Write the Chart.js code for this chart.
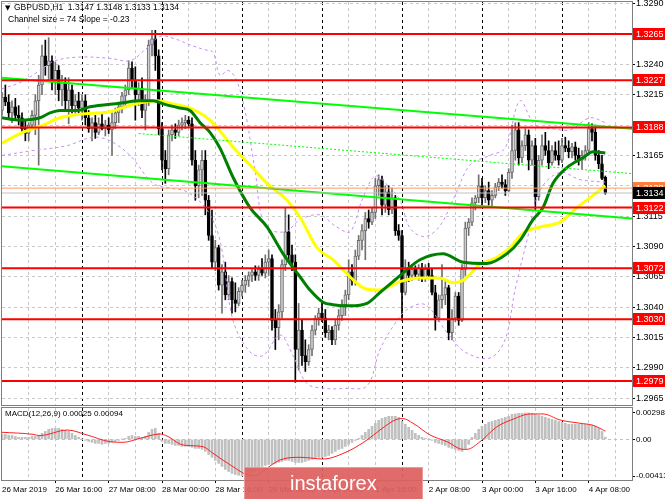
<!DOCTYPE html>
<html>
<head>
<meta charset="utf-8">
<script src="https://cdn.jsdelivr.net/npm/chart.js@4.4.1/dist/chart.umd.min.js"></script>
<style>
  body { margin: 0; background: #fff; }
  #wrap { position: relative; width: 665px; height: 499px; }
  canvas { position: absolute; left: 0; }
  #main { top: 0; }
  #macd { top: 406px; }
</style>
</head>
<body>
<div id="wrap">
  <canvas id="main" width="665" height="406"></canvas>
  <canvas id="macd" width="665" height="93"></canvas>
</div>
<script>
// ---- data ----
var symbol = 'GBPUSD,H1';
var channelSize = 74;
var channelSlope = -0.23;

// hourly bars, 26 Mar 00:00 .. 4 Apr 13:00 (weekend skipped)
var openP = [
  1.3202, 1.3213, 1.3209, 1.3200, 1.3205, 1.3198, 1.3196, 1.3187, 1.3183, 1.3190,
  1.3198, 1.3210, 1.3223, 1.3247, 1.3239, 1.3243, 1.3227, 1.3235, 1.3219, 1.3225,
  1.3210, 1.3219, 1.3206, 1.3210, 1.3204, 1.3210, 1.3196, 1.3187, 1.3192, 1.3184,
  1.3191, 1.3187, 1.3190, 1.3186, 1.3192, 1.3200, 1.3205, 1.3214, 1.3219, 1.3237,
  1.3227, 1.3215, 1.3220, 1.3202, 1.3210, 1.3256, 1.3261, 1.3247, 1.3187, 1.3161,
  1.3154, 1.3182, 1.3186, 1.3184, 1.3190, 1.3192, 1.3194, 1.3191, 1.3161, 1.3140,
  1.3153, 1.3161, 1.3128, 1.3099, 1.3077, 1.3089, 1.3058, 1.3069, 1.3050, 1.3061,
  1.3046, 1.3043, 1.3053, 1.3058, 1.3062, 1.3066, 1.3069, 1.3066, 1.3071, 1.3068,
  1.3077, 1.3080, 1.3029, 1.3023, 1.3036, 1.3075, 1.3102, 1.3083, 1.3077, 1.3005,
  1.3021, 1.3000, 1.2995, 1.3005, 1.3021, 1.3031, 1.3035, 1.3031, 1.3019, 1.3021,
  1.3013, 1.3025, 1.3033, 1.3042, 1.3050, 1.3069, 1.3062, 1.3082, 1.3095, 1.3103,
  1.3113, 1.3110, 1.3118, 1.3140, 1.3145, 1.3124, 1.3135, 1.3120, 1.3130, 1.3103,
  1.3099, 1.3052, 1.3072, 1.3066, 1.3071, 1.3067, 1.3072, 1.3064, 1.3071, 1.3066,
  1.3052, 1.3031, 1.3046, 1.3050, 1.3056, 1.3019, 1.3031, 1.3049, 1.3029, 1.3071,
  1.3105, 1.3110, 1.3126, 1.3130, 1.3140, 1.3130, 1.3136, 1.3128, 1.3132, 1.3139,
  1.3143, 1.3141, 1.3136, 1.3151, 1.3169, 1.3186, 1.3163, 1.3173, 1.3182, 1.3161,
  1.3173, 1.3131, 1.3161, 1.3173, 1.3169, 1.3159, 1.3169, 1.3165, 1.3161, 1.3173,
  1.3171, 1.3168, 1.3172, 1.3165, 1.3161, 1.3165, 1.3169, 1.3187, 1.3184, 1.3165,
  1.3158, 1.3147
];
var highP = [
  1.3217, 1.3223, 1.3215, 1.3210, 1.3212, 1.3206, 1.3200, 1.3194, 1.3192, 1.3202,
  1.3215, 1.3231, 1.3256, 1.3260, 1.3262, 1.3247, 1.3242, 1.3239, 1.3231, 1.3229,
  1.3229, 1.3223, 1.3215, 1.3217, 1.3215, 1.3215, 1.3202, 1.3196, 1.3198, 1.3196,
  1.3200, 1.3194, 1.3196, 1.3200, 1.3204, 1.3209, 1.3217, 1.3223, 1.3243, 1.3242,
  1.3238, 1.3225, 1.3229, 1.3215, 1.3260, 1.3268, 1.3268, 1.3252, 1.3192, 1.3169,
  1.3186, 1.3190, 1.3191, 1.3194, 1.3196, 1.3198, 1.3197, 1.3196, 1.3169, 1.3157,
  1.3169, 1.3169, 1.3132, 1.3120, 1.3095, 1.3091, 1.3075, 1.3077, 1.3066, 1.3064,
  1.3060, 1.3056, 1.3062, 1.3066, 1.3069, 1.3072, 1.3074, 1.3074, 1.3080, 1.3083,
  1.3087, 1.3083, 1.3038, 1.3042, 1.3079, 1.3122, 1.3116, 1.3091, 1.3083, 1.3043,
  1.3029, 1.3013, 1.3009, 1.3025, 1.3033, 1.3039, 1.3043, 1.3038, 1.3025, 1.3024,
  1.3029, 1.3038, 1.3046, 1.3054, 1.3079, 1.3075, 1.3087, 1.3099, 1.3108, 1.3118,
  1.3120, 1.3122, 1.3146, 1.3149, 1.3148, 1.3140, 1.3140, 1.3138, 1.3132, 1.3108,
  1.3103, 1.3079, 1.3077, 1.3075, 1.3074, 1.3075, 1.3076, 1.3075, 1.3076, 1.3071,
  1.3058, 1.3050, 1.3075, 1.3061, 1.3058, 1.3038, 1.3052, 1.3052, 1.3075, 1.3110,
  1.3113, 1.3130, 1.3132, 1.3149, 1.3146, 1.3140, 1.3143, 1.3136, 1.3142, 1.3146,
  1.3149, 1.3145, 1.3154, 1.3190, 1.3192, 1.3192, 1.3177, 1.3187, 1.3186, 1.3177,
  1.3179, 1.3165, 1.3182, 1.3184, 1.3177, 1.3173, 1.3176, 1.3177, 1.3179, 1.3180,
  1.3177, 1.3175, 1.3176, 1.3171, 1.3169, 1.3173, 1.3192, 1.3191, 1.3190, 1.3169,
  1.3165, 1.3148
];
var lowP = [
  1.3198, 1.3206, 1.3196, 1.3192, 1.3194, 1.3190, 1.3184, 1.3177, 1.3177, 1.3186,
  1.3182, 1.3157, 1.3215, 1.3231, 1.3227, 1.3219, 1.3215, 1.3210, 1.3206, 1.3202,
  1.3191, 1.3200, 1.3198, 1.3200, 1.3194, 1.3190, 1.3184, 1.3177, 1.3179, 1.3182,
  1.3186, 1.3181, 1.3183, 1.3165, 1.3187, 1.3192, 1.3200, 1.3206, 1.3215, 1.3220,
  1.3194, 1.3206, 1.3196, 1.3186, 1.3206, 1.3247, 1.3235, 1.3182, 1.3153, 1.3142,
  1.3149, 1.3177, 1.3179, 1.3181, 1.3186, 1.3187, 1.3189, 1.3157, 1.3128, 1.3130,
  1.3132, 1.3116, 1.3095, 1.3072, 1.3070, 1.3054, 1.3035, 1.3046, 1.3046, 1.3035,
  1.3036, 1.3041, 1.3049, 1.3052, 1.3057, 1.3061, 1.3062, 1.3062, 1.3066, 1.3064,
  1.3066, 1.3021, 1.3005, 1.3013, 1.3031, 1.3070, 1.3077, 1.3070, 1.2978, 1.2988,
  1.2992, 1.2987, 1.2992, 1.3000, 1.3017, 1.3025, 1.3028, 1.3015, 1.3013, 1.3009,
  1.3009, 1.3021, 1.3029, 1.3033, 1.3046, 1.3058, 1.3058, 1.3079, 1.3087, 1.3079,
  1.3105, 1.3108, 1.3113, 1.3132, 1.3116, 1.3118, 1.3116, 1.3117, 1.3099, 1.3095,
  1.3029, 1.3050, 1.3061, 1.3062, 1.3064, 1.3062, 1.3061, 1.3061, 1.3064, 1.3050,
  1.3021, 1.3028, 1.3039, 1.3042, 1.3013, 1.3013, 1.3028, 1.3025, 1.3028, 1.3066,
  1.3099, 1.3107, 1.3120, 1.3126, 1.3124, 1.3126, 1.3124, 1.3123, 1.3130, 1.3136,
  1.3138, 1.3132, 1.3135, 1.3146, 1.3161, 1.3157, 1.3159, 1.3169, 1.3153, 1.3157,
  1.3120, 1.3128, 1.3157, 1.3165, 1.3154, 1.3157, 1.3161, 1.3157, 1.3159, 1.3168,
  1.3163, 1.3163, 1.3161, 1.3157, 1.3154, 1.3161, 1.3165, 1.3177, 1.3161, 1.3154,
  1.3145, 1.3133
];
var closeP = [
  1.3213, 1.3209, 1.3200, 1.3205, 1.3198, 1.3196, 1.3187, 1.3183, 1.3190, 1.3198,
  1.3210, 1.3223, 1.3247, 1.3239, 1.3243, 1.3227, 1.3235, 1.3219, 1.3225, 1.3210,
  1.3219, 1.3206, 1.3210, 1.3204, 1.3210, 1.3196, 1.3187, 1.3192, 1.3184, 1.3191,
  1.3187, 1.3190, 1.3186, 1.3192, 1.3200, 1.3205, 1.3214, 1.3219, 1.3237, 1.3227,
  1.3215, 1.3220, 1.3202, 1.3210, 1.3256, 1.3261, 1.3247, 1.3187, 1.3161, 1.3154,
  1.3182, 1.3186, 1.3184, 1.3190, 1.3192, 1.3194, 1.3191, 1.3161, 1.3140, 1.3153,
  1.3161, 1.3128, 1.3099, 1.3077, 1.3089, 1.3058, 1.3069, 1.3050, 1.3061, 1.3046,
  1.3043, 1.3053, 1.3058, 1.3062, 1.3066, 1.3069, 1.3066, 1.3071, 1.3068, 1.3077,
  1.3080, 1.3029, 1.3023, 1.3036, 1.3075, 1.3102, 1.3083, 1.3077, 1.3005, 1.3021,
  1.3000, 1.2995, 1.3005, 1.3021, 1.3031, 1.3035, 1.3031, 1.3019, 1.3021, 1.3013,
  1.3025, 1.3033, 1.3042, 1.3050, 1.3069, 1.3062, 1.3082, 1.3095, 1.3103, 1.3113,
  1.3110, 1.3118, 1.3140, 1.3145, 1.3124, 1.3135, 1.3120, 1.3130, 1.3103, 1.3099,
  1.3052, 1.3072, 1.3066, 1.3071, 1.3067, 1.3072, 1.3064, 1.3071, 1.3066, 1.3052,
  1.3031, 1.3046, 1.3050, 1.3056, 1.3019, 1.3031, 1.3049, 1.3029, 1.3071, 1.3105,
  1.3110, 1.3126, 1.3130, 1.3140, 1.3130, 1.3136, 1.3128, 1.3132, 1.3139, 1.3143,
  1.3141, 1.3136, 1.3151, 1.3169, 1.3186, 1.3163, 1.3173, 1.3182, 1.3161, 1.3173,
  1.3131, 1.3161, 1.3173, 1.3169, 1.3159, 1.3169, 1.3165, 1.3161, 1.3173, 1.3171,
  1.3168, 1.3172, 1.3165, 1.3161, 1.3165, 1.3169, 1.3187, 1.3184, 1.3165, 1.3158,
  1.3146, 1.3134
];

// moving averages and bands, read at sample bars
var fastMaBars = [0, 5.4, 11.4, 14.4, 17.4, 22.5, 26.4, 35.4, 41.4, 45.3, 48.9, 53.4, 56.4, 59.4, 62.4, 65.4, 69.3, 74.4, 79.5, 84.3, 89.4, 92.4, 96.3, 99.3, 104.4, 109.5, 113.4, 117.3, 120.3, 125.4, 132.3, 138.3, 145.5, 151.5, 155.4, 159.3, 162.3, 165.3, 169.5, 174.3, 177.3, 181];
var fastMaVals = [1.3196, 1.3194, 1.3196, 1.3200, 1.3202, 1.3202, 1.3205, 1.3208, 1.3210, 1.3210, 1.3207, 1.3204, 1.3202, 1.3192, 1.3184, 1.3171, 1.3147, 1.3122, 1.3106, 1.3084, 1.3065, 1.3054, 1.3044, 1.3042, 1.3041, 1.3043, 1.3052, 1.3061, 1.3068, 1.3079, 1.3084, 1.3077, 1.3076, 1.3084, 1.3095, 1.3112, 1.3122, 1.3142, 1.3155, 1.3163, 1.3168, 1.3167];
var slowMaBars = [0, 5.4, 12.3, 17.4, 23.4, 32.4, 39.3, 46.5, 51.9, 55.5, 59.4, 62.4, 64.5, 69.3, 74.4, 79.5, 85.5, 89.4, 94.5, 99.3, 104.4, 108.3, 112.5, 115.5, 119.4, 125.4, 131.4, 135.3, 138.3, 143.4, 148.5, 152.4, 156.3, 161.4, 167.4, 172.5, 177.3, 181];
var slowMaVals = [1.3175, 1.3183, 1.3190, 1.3196, 1.3199, 1.3201, 1.3207, 1.3210, 1.3207, 1.3205, 1.3200, 1.3194, 1.3188, 1.3172, 1.3157, 1.3142, 1.3128, 1.3114, 1.3089, 1.3079, 1.3065, 1.3056, 1.3054, 1.3056, 1.3061, 1.3064, 1.3064, 1.3060, 1.3062, 1.3075, 1.3081, 1.3089, 1.3101, 1.3106, 1.3110, 1.3122, 1.3132, 1.3140];
var upperBandBars = [0, 5.4, 11.4, 15.9, 23.4, 32.4, 38.4, 42.9, 47.4, 51.9, 56.4, 60.9, 63.3, 65.4, 67.8, 70.2, 72.9, 75.9, 78.9, 84.9, 89.4, 95.4, 99.9, 104.4, 108, 111.9, 115.8, 119.4, 122.4, 126.9, 131.4, 135.9, 140.4, 146.4, 150.9, 155.4, 159.9, 165.3, 170.4, 176.4, 181];
var upperBandVals = [1.3220, 1.3225, 1.3235, 1.3243, 1.3246, 1.3245, 1.3243, 1.3252, 1.3263, 1.3261, 1.3256, 1.3252, 1.3250, 1.3231, 1.3235, 1.3228, 1.3202, 1.3153, 1.3107, 1.3102, 1.3112, 1.3116, 1.3107, 1.3102, 1.3128, 1.3148, 1.3140, 1.3128, 1.3105, 1.3098, 1.3107, 1.3132, 1.3157, 1.3165, 1.3171, 1.3210, 1.3190, 1.3187, 1.3186, 1.3196, 1.3192];
var lowerBandBars = [0, 9.3, 19.5, 27.3, 32.4, 38.4, 45.3, 50.4, 55.5, 61.5, 65.4, 69.3, 74.4, 78.3, 83.4, 87.3, 91.5, 96.9, 102.9, 109.5, 113.4, 117.3, 121.5, 126.9, 133.5, 138.9, 146.4, 150.9, 153.9, 157.5, 161.4, 167.4, 173.4, 181];
var lowerBandVals = [1.3165, 1.3169, 1.3173, 1.3180, 1.3177, 1.3165, 1.3142, 1.3138, 1.3135, 1.3120, 1.3095, 1.3029, 1.3003, 1.3000, 1.3017, 1.3000, 1.2977, 1.2973, 1.2973, 1.2975, 1.3005, 1.3024, 1.3038, 1.3042, 1.3019, 1.3003, 1.2998, 1.3013, 1.3054, 1.3095, 1.3136, 1.3151, 1.3145, 1.3143];

// regression channel ends (bar, price)
var channelBars = [0, 189];
var channelUpper = [1.3229, 1.3187];
var channelLower = [1.3156, 1.3113];
var channelMidBars = [41, 189];
var channelMid = [1.3183, 1.3150];

// horizontal levels and price lines
var levels = [1.3265, 1.3227, 1.3188, 1.3122, 1.3072, 1.3030, 1.2979];
var askLine = 1.3138;
var bidLine = 1.3134;

// MACD(12,26,9)
var macdHist = [
  0.00056, 0.00056, 0.00045, 0.00045, 0.00034, 0.00023, 0.00023, 0.00023, 0.00023, 0.00034,
  0.00034, 0.00045, 0.00068, 0.0009, 0.00113, 0.00124, 0.00124, 0.00124, 0.00113, 0.00102,
  0.0009, 0.00068, 0.00045, 0.00023, 0.00002, -0.00011, -0.00023, -0.00034, -0.00045, -0.00045,
  -0.00056, -0.00045, -0.00045, -0.00034, -0.00023, -0.00011, 0.00002, 0.00011, 0.00034, 0.00045,
  0.00034, 0.00034, 0.00023, 0.00034, 0.00079, 0.00113, 0.00124, 0.00068, -0.00023, -0.00045,
  -0.00045, -0.00056, -0.00068, -0.00068, -0.00079, -0.00079, -0.00079, -0.0009, -0.00102, -0.00102,
  -0.00113, -0.00136, -0.0017, -0.00203, -0.00237, -0.00271, -0.00305, -0.00339, -0.00362, -0.00384,
  -0.00396, -0.00405, -0.00413, -0.00413, -0.00396, -0.00373, -0.0035, -0.00328, -0.00305, -0.00294,
  -0.00283, -0.00283, -0.00271, -0.0026, -0.00249, -0.00237, -0.00237, -0.00249, -0.0026, -0.0026,
  -0.0026, -0.00249, -0.00237, -0.00226, -0.00215, -0.00203, -0.00203, -0.00192, -0.00181, -0.00158,
  -0.00136, -0.00113, -0.00102, -0.00079, -0.00056, -0.00034, -0.00011, 0.00011, 0.00045, 0.00079,
  0.00113, 0.00147, 0.00181, 0.00215, 0.00237, 0.00249, 0.0026, 0.0026, 0.0026, 0.00249,
  0.00203, 0.0017, 0.00136, 0.00102, 0.00068, 0.00045, 0.00023, 0.00011, 0.00002, -0.00011,
  -0.00034, -0.00045, -0.00056, -0.00068, -0.0009, -0.00102, -0.00113, -0.00124, -0.00136, -0.00102,
  -0.00056, 0.00023, 0.00068, 0.00113, 0.00147, 0.0017, 0.00192, 0.00203, 0.00215, 0.00226,
  0.00237, 0.00249, 0.0026, 0.00283, 0.00287, 0.00294, 0.00294, 0.00298, 0.00298, 0.00294,
  0.00283, 0.00271, 0.0026, 0.00249, 0.00237, 0.00226, 0.00215, 0.00203, 0.00192, 0.00181,
  0.0017, 0.0017, 0.0017, 0.0017, 0.0017, 0.0017, 0.0017, 0.00158, 0.00147, 0.00124,
  0.0009, 0.00025
];
var signalBars = [0, 9.3, 11.4, 19.5, 25.5, 32.4, 36.3, 41.4, 47.4, 49.5, 54.3, 60.3, 63.3, 69.3, 73.5, 75.9, 78.9, 83.4, 89.4, 96.3, 103.5, 109.5, 113.4, 118.5, 120.3, 123.3, 128.4, 133.5, 138.3, 139.5, 143.4, 148.5, 153.3, 158.4, 162.3, 167.4, 173.4, 177.3, 181];
var signalVals = [0.0008, 0.00057, 0.00042, 0.00106, 0.0005, -0.00026, -0.00033, 0.00012, 0.00061, 0.00038, -0.00063, -0.00082, -0.00157, -0.00308, -0.0040, -0.0041, -0.0034, -0.00232, -0.00202, -0.00221, -0.00139, -0.00007, 0.00106, 0.00227, 0.00234, 0.00182, 0.0005, -0.00026, -0.00112, -0.00112, -0.00026, 0.00143, 0.00227, 0.00287, 0.00287, 0.00219, 0.00182, 0.00159, 0.00094];

// axes
var priceTicks = [1.2965, 1.2990, 1.3015, 1.3040, 1.3065, 1.3090, 1.3115, 1.3140, 1.3165, 1.3190, 1.3215, 1.3240, 1.3265, 1.3290];
var macdTicks = [-0.00413, 0, 0.00298];
var tickBars = [0, 8, 16, 24, 32, 40, 48, 56, 64, 72, 80, 88, 96, 104, 112, 120, 128, 136, 144, 152, 160, 168, 176, 184];
var daySeparators = [24, 48, 72, 96, 120, 144, 168];
var labelBars = [0, 16, 32, 48, 64, 80, 96, 112, 128, 144, 160, 176];
var timeLabels = ['26 Mar 2019', '26 Mar 16:00', '27 Mar 08:00', '28 Mar 00:00', '28 Mar 16:00', '29 Mar 08:00',
  '1 Apr 00:00', '1 Apr 16:00', '2 Apr 08:00', '3 Apr 00:00', '3 Apr 16:00', '4 Apr 08:00'];

// ---- chart ----
Chart.defaults.font.family = '"Liberation Sans", "DejaVu Sans", sans-serif';
Chart.defaults.color = '#000';

function pts(xs, ys) {
  return xs.map(function (x, i) { return { x: x, y: ys[i] }; });
}
function flat(v) {
  return [{ x: 0, y: v }, { x: 189, y: v }];
}
var isBull = closeP.map(function (c, i) { return c >= openP[i]; });

function timeAxis(withLabels) {
  return {
    type: 'linear', min: 0, max: 189, offset: false,
    afterBuildTicks: function (s) { s.ticks = tickBars.map(function (v) { return { value: v }; }); },
    ticks: {
      display: withLabels, autoSkip: false, maxRotation: 0, align: 'start', padding: 2,
      font: { size: 8 },
      callback: function (v) { var k = labelBars.indexOf(v); return k < 0 ? '' : timeLabels[k]; }
    },
    grid: {
      offset: false,
      color: function (c) {
        if (c.tick.value === 0) return 'rgba(0,0,0,0)';
        return daySeparators.indexOf(c.tick.value) >= 0 ? '#000000' : '#c8c8c8';
      },
      drawTicks: withLabels, tickLength: 3,
      tickColor: function (c) { return labelBars.indexOf(c.tick.value) > 0 ? '#000000' : 'rgba(0,0,0,0)'; }
    },
    border: { display: false, dash: [3, 3] },
    afterFit: function (s) { s.height = withLabels ? 19 : 0; s.paddingLeft = 0; s.paddingRight = 0; }
  };
}

var framePlugin = {
  id: 'frame',
  afterDraw: function (chart) {
    var a = chart.chartArea, ctx = chart.ctx;
    ctx.save();
    ctx.strokeStyle = '#7f7f7f';
    ctx.lineWidth = 1;
    ctx.strokeRect(Math.round(a.left) - 0.5, Math.round(a.top) - 0.5,
      Math.round(a.right - a.left) + 1, Math.round(a.bottom - a.top) + 1);
    ctx.restore();
  }
};

function tag(ctx, left, right, py, text, bg, fg) {
  var y = Math.round(py);
  ctx.fillStyle = bg;
  ctx.fillRect(left, y - 6, right - left, 12);
  ctx.fillStyle = fg;
  ctx.font = '9px "Liberation Sans"';
  ctx.textAlign = 'left';
  ctx.textBaseline = 'middle';
  ctx.fillText(text, left + 3, y + 0.5);
}

var mainLabels = {
  id: 'mainLabels',
  afterDraw: function (chart) {
    var ctx = chart.ctx, ys = chart.scales.y, a = chart.chartArea;
    var last = openP.length - 1;
    ctx.save();
    ctx.fillStyle = '#000';
    ctx.textBaseline = 'middle';
    ctx.textAlign = 'left';
    ctx.font = '7px "DejaVu Sans"';
    ctx.fillText('\u25BC', 5, 8);
    ctx.font = '8.5px "Liberation Sans"';
    ctx.fillText(symbol + '  ' + openP[last].toFixed(4) + ' ' + highP[last].toFixed(4) + ' ' +
      lowP[last].toFixed(4) + ' ' + closeP[last].toFixed(4), 14, 8);
    ctx.fillText('Channel size = ' + channelSize + ' Slope = ' + channelSlope.toFixed(2), 8, 20);
    var left = Math.round(a.right) + 1, right = chart.width;
    tag(ctx, left, right, ys.getPixelForValue(askLine), askLine.toFixed(4), '#ff7f3f', '#ffffff');
    tag(ctx, left, right, ys.getPixelForValue(bidLine), bidLine.toFixed(4), '#000000', '#ffffff');
    levels.forEach(function (v) {
      tag(ctx, left, right, ys.getPixelForValue(v), v.toFixed(4), '#ff0000', '#ffffff');
    });
    ctx.restore();
  }
};

var lineBase = { type: 'line', pointRadius: 0, fill: false, borderCapStyle: 'butt' };
function lineSet(extra) { return Object.assign({}, lineBase, extra); }

new Chart(document.getElementById('main'), {
  type: 'bar',
  data: {
    datasets: [
      {
        type: 'bar', order: 20, grouped: false, barThickness: 1,
        data: lowP.map(function (l, i) { return { x: i, y: [l, highP[i]] }; }),
        backgroundColor: isBull.map(function (b) { return b ? '#707070' : '#000000'; })
      },
      {
        type: 'bar', order: 19, grouped: false, barThickness: 3, minBarLength: 1,
        data: openP.map(function (o, i) { return { x: i, y: [o, closeP[i]] }; }),
        backgroundColor: isBull.map(function (b) { return b ? '#cfcfcf' : '#000000'; }),
        borderColor: isBull.map(function (b) { return b ? '#6a6a6a' : '#000000'; }),
        borderWidth: 1, borderSkipped: false
      },
      lineSet({ order: 12, data: pts(upperBandBars, upperBandVals), borderColor: '#c58ef0', borderWidth: 1, borderDash: [3, 3], tension: 0.35 }),
      lineSet({ order: 12, data: pts(lowerBandBars, lowerBandVals), borderColor: '#c58ef0', borderWidth: 1, borderDash: [3, 3], tension: 0.35 }),
      lineSet({ order: 10, data: pts(slowMaBars, slowMaVals), borderColor: '#ffff00', borderWidth: 3, cubicInterpolationMode: 'monotone' }),
      lineSet({ order: 9, data: pts(fastMaBars, fastMaVals), borderColor: '#008000', borderWidth: 3, cubicInterpolationMode: 'monotone' }),
      lineSet({ order: 8, data: pts(channelBars, channelUpper), borderColor: '#00ff00', borderWidth: 2 }),
      lineSet({ order: 8, data: pts(channelBars, channelLower), borderColor: '#00ff00', borderWidth: 2 }),
      lineSet({ order: 8, data: pts(channelMidBars, channelMid), borderColor: '#00ff00', borderWidth: 1, borderDash: [2, 2] }),
      lineSet({ order: 7, data: flat(askLine), borderColor: '#ff9a66', borderWidth: 1 }),
      lineSet({ order: 7, data: flat(bidLine), borderColor: '#c0c0c0', borderWidth: 1 })
    ].concat(levels.map(function (v) {
      return lineSet({ order: 1, data: flat(v), borderColor: '#ff0000', borderWidth: 2 });
    }))
  },
  options: {
    responsive: false, animation: false, devicePixelRatio: 1, events: [],
    layout: { padding: { left: 2, top: 2, right: 0, bottom: 1 } },
    plugins: { legend: { display: false }, tooltip: { enabled: false } },
    scales: {
      x: timeAxis(false),
      y: {
        position: 'right', min: 1.29593, max: 1.32914,
        afterBuildTicks: function (s) { s.ticks = priceTicks.map(function (v) { return { value: v }; }); },
        ticks: { font: { size: 9 }, padding: 1, callback: function (v) { return v.toFixed(4); } },
        grid: { color: '#c8c8c8', tickColor: '#000000', tickLength: 3 },
        border: { display: false, dash: [3, 3] },
        afterFit: function (s) { s.width = 33; s.paddingTop = 0; s.paddingBottom = 0; }
      }
    }
  },
  plugins: [framePlugin, mainLabels]
});

var macdLabels = {
  id: 'macdLabels',
  afterDraw: function (chart) {
    var ctx = chart.ctx;
    ctx.save();
    ctx.fillStyle = '#000';
    ctx.font = '8px "Liberation Sans"';
    ctx.textAlign = 'left';
    ctx.textBaseline = 'middle';
    ctx.fillText('MACD(12,26,9) ' + macdHist[macdHist.length - 1].toFixed(5) + ' ' +
      signalVals[signalVals.length - 1].toFixed(5), 5, 8);
    // instaforex watermark
    ctx.fillStyle = 'rgba(222,96,96,0.93)';
    ctx.fillRect(244, 61, 179, 32);
    ctx.strokeStyle = 'rgba(240,160,160,0.9)';
    ctx.lineWidth = 1;
    ctx.strokeRect(244.5, 61.5, 178, 32);
    ctx.fillStyle = '#ffffff';
    ctx.font = '20px "Liberation Sans"';
    ctx.textBaseline = 'alphabetic';
    ctx.fillText('instaforex', 290, 84);
    ctx.restore();
  }
};

new Chart(document.getElementById('macd'), {
  type: 'bar',
  data: {
    datasets: [
      {
        type: 'bar', order: 2, grouped: false, barThickness: 2,
        data: macdHist.map(function (v, i) { return { x: i, y: v }; }),
        backgroundColor: '#c0c0c0'
      },
      lineSet({ order: 1, data: pts(signalBars, signalVals), borderColor: '#ff2020', borderWidth: 1, cubicInterpolationMode: 'monotone' })
    ]
  },
  options: {
    responsive: false, animation: false, devicePixelRatio: 1, events: [],
    layout: { padding: { left: 2, top: 2, right: 0, bottom: 0 } },
    plugins: { legend: { display: false }, tooltip: { enabled: false } },
    scales: {
      x: timeAxis(true),
      y: {
        position: 'right', min: -0.00458, max: 0.00354,
        afterBuildTicks: function (s) { s.ticks = macdTicks.map(function (v) { return { value: v }; }); },
        ticks: { font: { size: 8 }, padding: 1, callback: function (v) { return v === 0 ? '0.00' : v.toFixed(5); } },
        grid: {
          color: function (c) { return c.tick.value === 0 ? '#c0c0c0' : 'rgba(0,0,0,0)'; },
          tickColor: '#000000', tickLength: 3
        },
        border: { display: false, dash: [3, 3] },
        afterFit: function (s) { s.width = 33; s.paddingTop = 0; s.paddingBottom = 0; }
      }
    }
  },
  plugins: [framePlugin, macdLabels]
});
</script>
</body>
</html>
